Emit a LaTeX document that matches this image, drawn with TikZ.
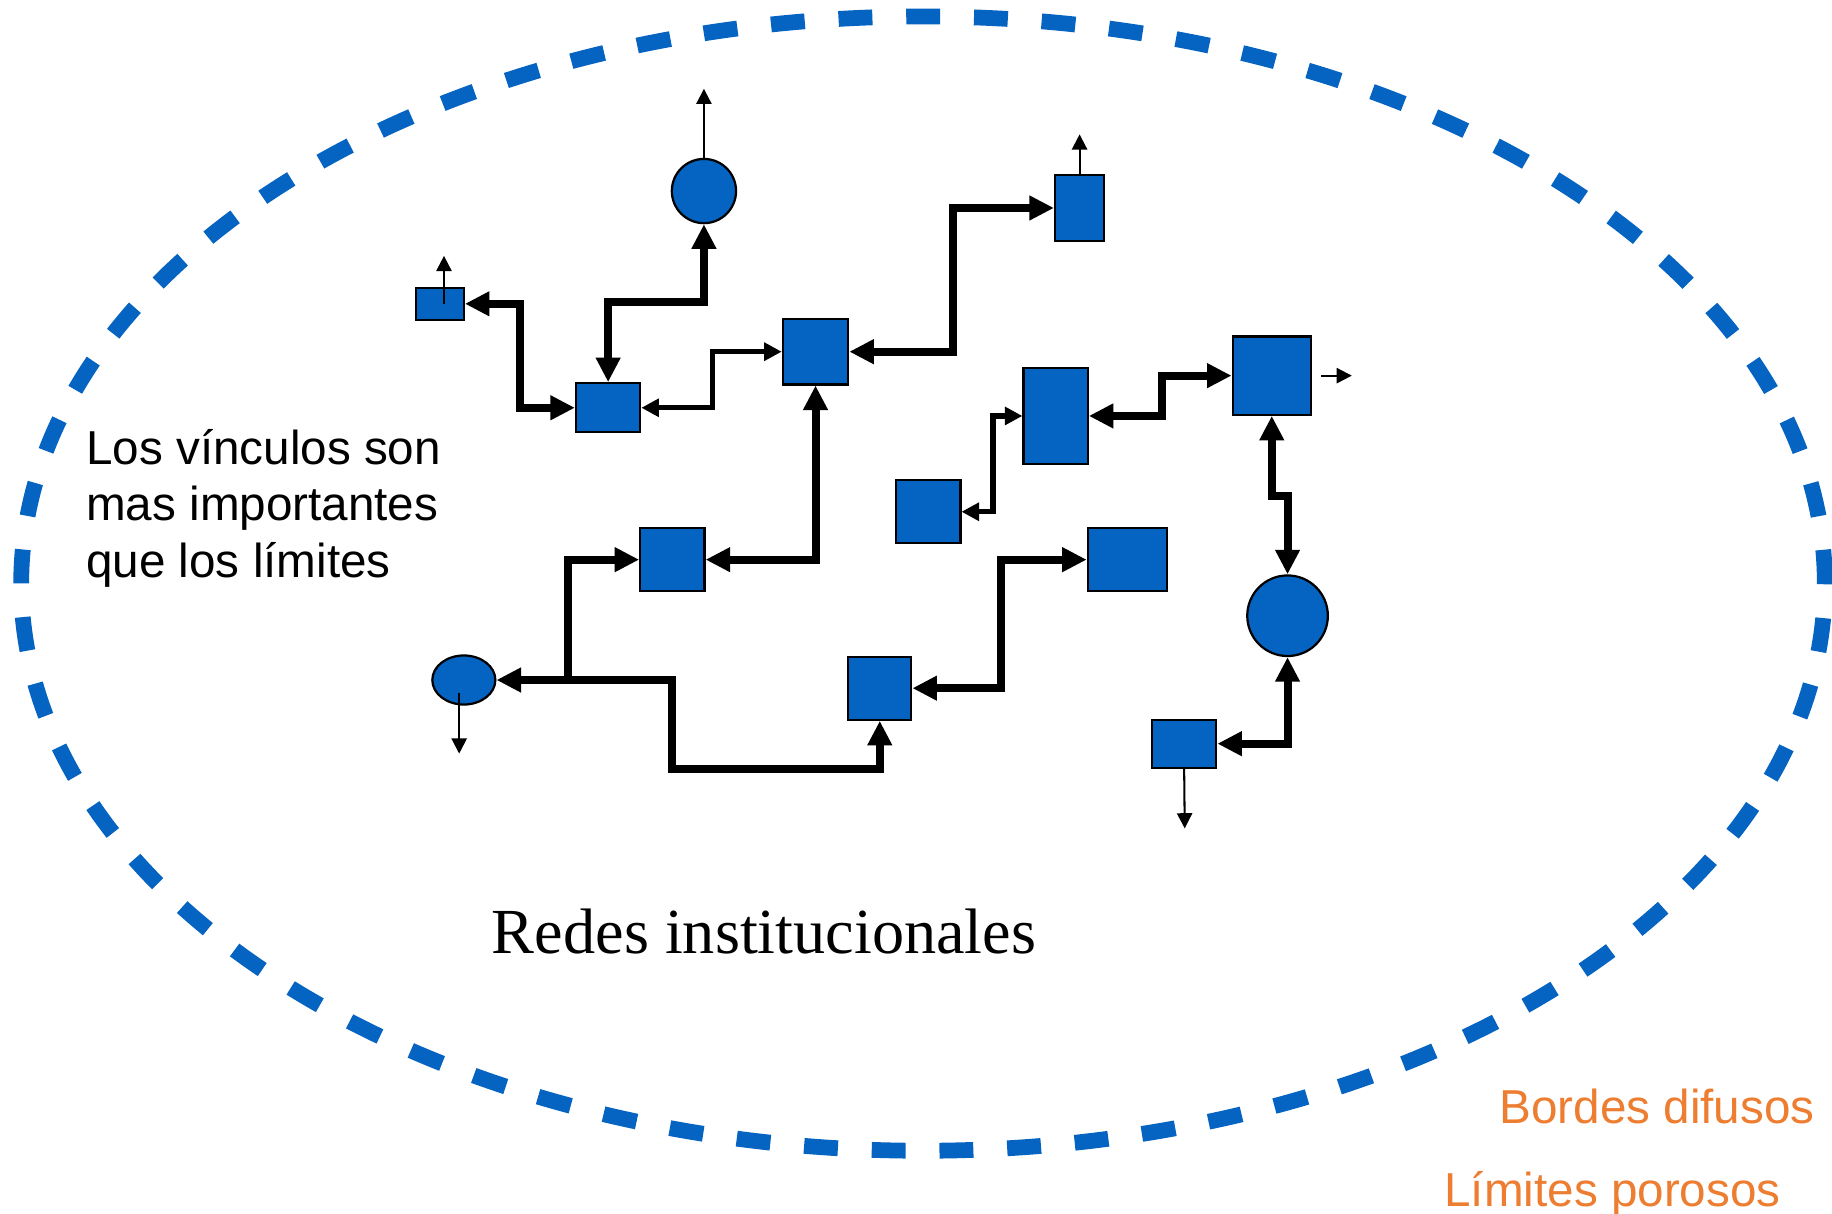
\documentclass[tikz,border=0pt]{standalone}
\usepackage{fontspec}
\setmainfont{Liberation Sans}
\newfontfamily\serifface{Liberation Serif}
\usepackage{xcolor}
\usetikzlibrary{positioning, calc, arrows.meta, shapes.geometric}
\definecolor{netblue}{RGB}{5,99,193}
\definecolor{fuzzy}{RGB}{237,125,49}

\begin{document}
\begin{tikzpicture}[x=0.02cm, y=-0.02cm,
    bigtip/.tip={Triangle[length=0.42cm, width=0.4cm]},
    midtip/.tip={Triangle[length=0.3cm, width=0.3cm]},
    smalltip/.tip={Triangle[length=0.26cm, width=0.26cm]},
    unit/.style={draw=black, line width=0.038cm, fill=netblue, inner sep=0pt},
    bond/.style={line width=0.137cm, bigtip-bigtip},
    slimbond/.style={line width=0.092cm, midtip-midtip},
    stub/.style={line width=0.035cm, -smalltip},
    fence/.style={draw=netblue, line width=0.27cm, dash pattern=on 0.58cm off 0.58cm},
    saytext/.style={inner sep=0pt, font=\fontsize{23.2}{27.6}\selectfont}]
    \useasboundingbox (0,0) rectangle (1568,1039);
    \draw[fence] (790,499.5) ellipse [x radius=15.44cm, y radius=9.71cm];

    \node[unit, minimum width=0.82cm, minimum height=0.55cm] (s1) at (376.5,260) {};
    \node[unit, circle, minimum size=1.1cm] (c1) at (602.5,163.5) {};
    \node[unit, minimum width=1.1cm, minimum height=0.84cm] (b1) at (520.5,349) {};
    \node[unit, minimum width=1.12cm, minimum height=1.12cm] (b2) at (698,301) {};
    \node[unit, minimum width=0.84cm, minimum height=1.12cm] (b3) at (924,178) {};
    \node[unit, minimum width=1.1cm, minimum height=1.64cm] (b4) at (903.5,356) {};
    \node[unit, minimum width=1.34cm, minimum height=1.34cm] (b5) at (1088.5,321.5) {};
    \node[unit, minimum width=1.1cm, minimum height=1.08cm] (b6) at (794.5,438) {};
    \node[unit, minimum width=1.1cm, minimum height=1.08cm] (b7) at (575.5,479) {};
    \node[unit, minimum width=1.36cm, minimum height=1.08cm] (b8) at (965,479) {};
    \node[unit, minimum width=1.08cm, minimum height=1.08cm] (b9) at (753,589) {};
    \node[unit, circle, minimum size=1.38cm] (c2) at (1102,527) {};
    \node[unit, minimum width=1.1cm, minimum height=0.82cm] (b10) at (1013.5,636.5) {};
    \node[unit, ellipse, minimum width=1.08cm, minimum height=0.84cm] (e1) at (397,582) {};

    \draw[bond] (s1.east) -- ++(47,0) |- (b1.west);
    \draw[bond] (b1.north) -- ++(0,-68.5) -| (c1.south);
    \draw[slimbond] (b1.east) -- ++(61,0) |- (b2.west);
    \draw[bond] (b7.east) -| (b2.south);
    \draw[bond] (b2.east) -- ++(89,0) |- (b3.west);
    \draw[bond] (b4.east) -- ++(63,0) |- (b5.west);
    \draw[slimbond] (b6.east) -- ++(27,0) |- (b4.west);
    \draw[bond] (b5.south) -- ++(0,68.5) -| (c2.north);
    \draw[bond] (b10.east) -| (c2.south);
    \draw[bond] (b9.east) -- ++(76,0) |- (b8.west);
    \coordinate (turn) at (575,582);
    \coordinate (fork) at (486,582);
    \draw[bond] (b9.south) -- ++(0,41) -| (turn) -- (e1.east);
    \draw[bond, -bigtip] (fork) |- (b7.west);

    \coordinate (s1up) at (380,219);
    \coordinate (c1up) at (602.5,76);
    \coordinate (b3up) at (924,115);
    \coordinate (b5out) at (1157,321.5);
    \coordinate (e1down) at (393,645);
    \coordinate (b10down) at (1014,709);
    \draw[stub] (s1up |- s1.center) -- (s1up);
    \draw[stub] (c1.north) -- (c1up);
    \draw[stub] (b3.north) -- (b3up);
    \draw[stub] ($(b5.east)+(8,0)$) -- (b5out);
    \draw[stub] ($(e1.center)+(-4,11)$) -- (e1down);
    \draw[stub] (b10.south) -- (b10down);

    \node[saytext, anchor=north west, align=left] (note) at (73.5,367) {Los vínculos son\\mas importantes\\que los límites};
    \node[inner sep=0pt, anchor=base, font=\serifface\fontsize{31.3}{36}\selectfont] (title) at (654,816.5) {Redes institucionales};
    \node[saytext, anchor=base east, text=fuzzy] (edge1) at (1553.4,961.4) {Bordes difusos};
    \node[saytext, anchor=base east, text=fuzzy] (edge2) at (1524.3,1032.7) {Límites porosos};
\end{tikzpicture}
\end{document}
